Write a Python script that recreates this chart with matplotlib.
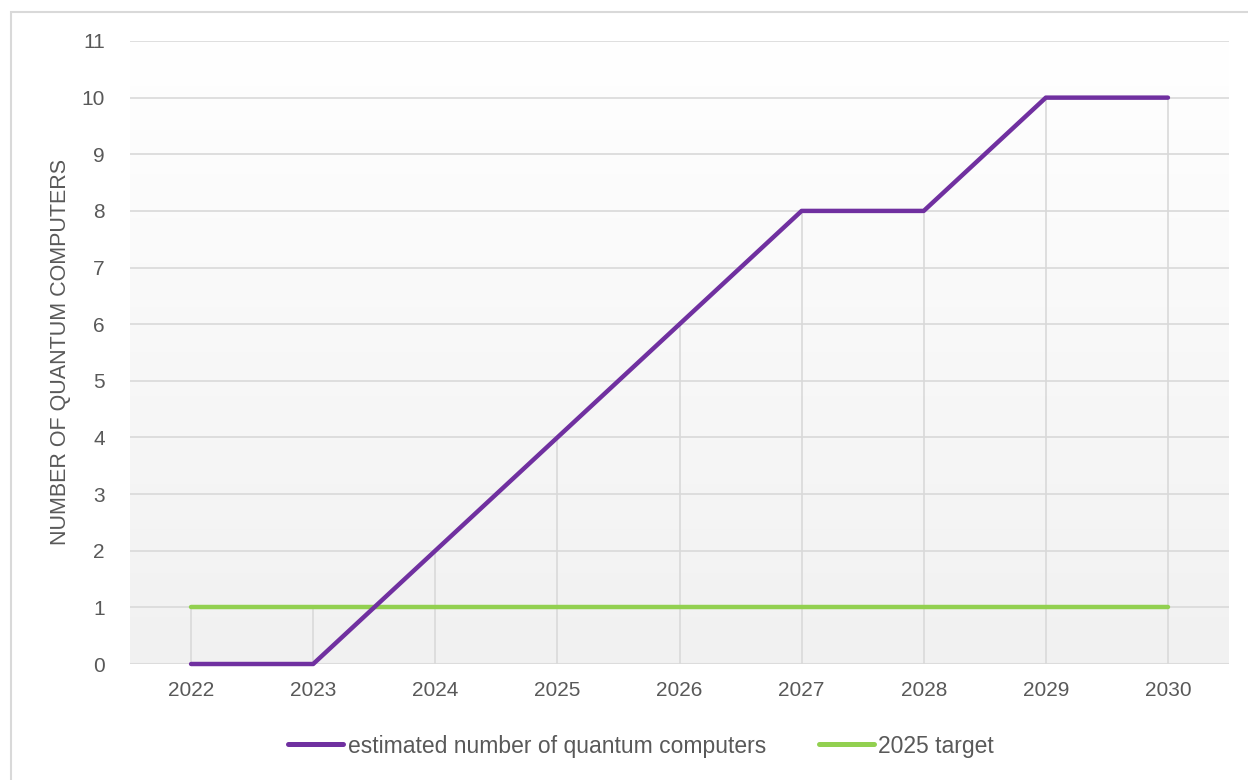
import matplotlib
matplotlib.use("Agg")
import matplotlib.pyplot as plt
import numpy as np
from matplotlib.patches import Rectangle

years = ["2022", "2023", "2024", "2025", "2026", "2027", "2028", "2029", "2030"]
estimated = [0, 0, 2, 4, 6, 8, 8, 10, 10]
target = [1, 1, 1, 1, 1, 1, 1, 1, 1]

PURPLE = "#7030A0"
GREEN = "#92D050"
TEXT = "#595959"
GRID = "#d9d9d9"

plt.rcParams["font.family"] = ["Liberation Sans", "DejaVu Sans"]

fig = plt.figure(figsize=(12.48, 7.8), dpi=100)
W, H = 1248, 780
ax = fig.add_axes([130 / W, 116 / H, (1229 - 130) / W, (664 - 41) / H])

x = np.arange(len(years))
ax.set_xlim(-0.5, len(years) - 0.5)
ax.set_ylim(0, 11)

# soft vertical gradient behind the plot
grad = np.linspace(1.0, 0.945, 256).reshape(-1, 1)
ax.imshow(np.dstack([grad, grad, grad]), extent=[-0.5, len(years) - 0.5, 0, 11],
          aspect="auto", origin="upper", zorder=0)

for v in range(0, 12):
    ax.axhline(v, color=GRID, lw=1.2, zorder=1)

# drop lines from the highest series down to the axis
tops = np.maximum(estimated, target)
ax.vlines(x, 0, tops, color=GRID, lw=1.2, zorder=1)

ax.plot(x, estimated, color=PURPLE, lw=3.2, solid_capstyle="round",
        solid_joinstyle="round", zorder=3, clip_on=False,
        label="estimated number of quantum computers")
ax.plot(x, target, color=GREEN, lw=3.2, solid_capstyle="round", zorder=2,
        clip_on=False, label="2025 target")

ax.set_xticks(x)
ax.set_xticklabels(years)
ax.set_yticks(range(0, 12))
ax.tick_params(length=0, labelsize=15, colors=TEXT)
ax.tick_params(axis="x", pad=12)
ax.tick_params(axis="y", pad=18)
for s in ax.spines.values():
    s.set_visible(False)

fig.text(61 / W, 1 - 352 / H, "NUMBER OF QUANTUM COMPUTERS", rotation=90,
         ha="center", va="center", fontsize=15.5, color=TEXT)

leg = fig.legend(loc="center", bbox_to_anchor=(641 / W, 1 - 746 / H), ncol=2,
                 frameon=False, handlelength=2.4, handletextpad=0.2,
                 columnspacing=2.3, fontsize=16.5)
for line in leg.get_lines():
    line.set_linewidth(3.6)
for t in leg.get_texts():
    t.set_color(TEXT)

fig.patches.append(Rectangle((11 / W, -0.1), 1.2, 1 - 12 / H + 0.1,
                             transform=fig.transFigure, fill=False,
                             edgecolor="#d9d9d9", lw=1.5))

fig.savefig("out.png", dpi=100)
